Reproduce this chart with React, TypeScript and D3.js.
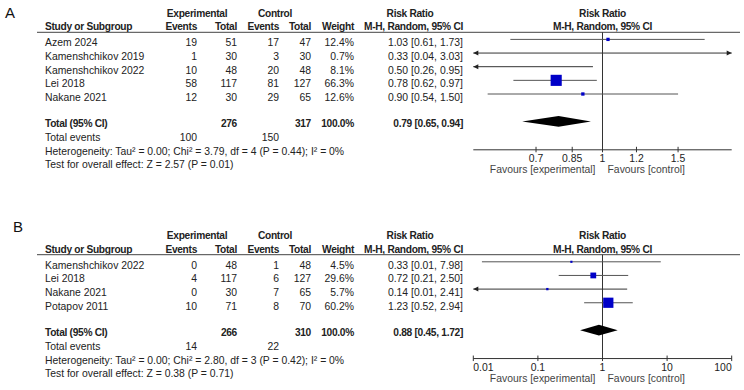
import React from 'react';
import * as d3 from 'd3';

// Panel A – data
const studiesA = ['Azem 2024', 'Kamenshchikov 2019', 'Kamenshchikov 2022', 'Lei 2018', 'Nakane 2021'];
const expEventsA = [19, 1, 10, 58, 12];
const expTotalA = [51, 30, 48, 117, 30];
const ctlEventsA = [17, 3, 20, 81, 29];
const ctlTotalA = [47, 30, 48, 127, 65];
const weightA = [12.4, 0.7, 8.1, 66.3, 12.6];
const rrA = [1.03, 0.33, 0.5, 0.78, 0.9];
const loA = [0.61, 0.04, 0.26, 0.62, 0.54];
const hiA = [1.73, 3.03, 0.95, 0.97, 1.5];
const pooledA = [0.79, 0.65, 0.94];
const totalsA = [276, 317];
const eventsA = [100, 150];
const hetA = 'Heterogeneity: Tau² = 0.00; Chi² = 3.79, df = 4 (P = 0.44); I² = 0%';
const testA = 'Test for overall effect: Z = 2.57 (P = 0.01)';
const domainA = [0.5, 2];
const ticksA = [0.7, 0.85, 1, 1.2, 1.5];
const tickLabelsA = ['0.7', '0.85', '1', '1.2', '1.5'];

// Panel B – data
const studiesB = ['Kamenshchikov 2022', 'Lei 2018', 'Nakane 2021', 'Potapov 2011'];
const expEventsB = [0, 4, 0, 10];
const expTotalB = [48, 117, 30, 71];
const ctlEventsB = [1, 6, 7, 8];
const ctlTotalB = [48, 127, 65, 70];
const weightB = [4.5, 29.6, 5.7, 60.2];
const rrB = [0.33, 0.72, 0.14, 1.23];
const loB = [0.0136, 0.21, 0.0081, 0.52];
const hiB = [7.98, 2.5, 2.41, 2.94];
const pooledB = [0.88, 0.45, 1.72];
const totalsB = [266, 310];
const eventsB = [14, 22];
const hetB = 'Heterogeneity: Tau² = 0.00; Chi² = 2.80, df = 3 (P = 0.42); I² = 0%';
const testB = 'Test for overall effect: Z = 0.38 (P = 0.71)';
const domainB = [0.01, 100];
const ticksB = [0.01, 0.1, 1, 10, 100];
const tickLabelsB = ['0.01', '0.1', '1', '10', '100'];

const FONT = '"Liberation Sans", Arial, sans-serif';
const TXT = '#222';
const LINE = '#555';
const BLUE = '#0000c8';
const FS = 10.4;
const FS_BOLD = 10.2;

// column anchors
const COL = {
  study: 45,
  expEv: 197,
  expTot: 237,
  ctlEv: 279,
  ctlTot: 311,
  weight: 354,
  rr: 463,
};
const PLOT = [473.3, 731.7];
const ROW = 13.65;

const fmt = (v: number) => v.toFixed(2);

interface PanelProps {
  letter: string;
  letterX: number;
  letterY: number;
  top: number;
  studies: string[];
  expEvents: number[];
  expTotal: number[];
  ctlEvents: number[];
  ctlTotal: number[];
  weight: number[];
  rr: number[];
  lo: number[];
  hi: number[];
  pooled: number[];
  totals: number[];
  events: number[];
  het: string;
  test: string;
  domain: number[];
  ticks: number[];
  tickLabels: string[];
}

function Panel(p: PanelProps) {
  const x = d3.scaleLog().domain(p.domain).range(PLOT);
  const size = d3.scaleLinear().domain([0, 100]).range([1.5, 16]);

  const h1 = p.top;
  const h2 = h1 + 13.4;
  const rule = h1 + 19;
  const rowY = (i: number) => h1 + 29.4 + i * ROW;
  const totalY = rowY(p.studies.length - 1) + 26.6;
  const evY = totalY + 14;
  const hetY = totalY + 27.6;
  const testY = totalY + 41;
  const axisY = totalY + 25.9;
  const nullX = x(1);
  const [dMin, dMax] = p.domain;

  const t = (props: any, s: any, bold = false) => (
    <text
      dominantBaseline="central"
      fontWeight={bold ? 'bold' : 'normal'}
      fontSize={bold ? FS_BOLD : FS}
      letterSpacing={bold ? -0.3 : 0}
      fill={TXT}
      {...props}
    >
      {s}
    </text>
  );

  const arrow = (xp: number, y: number, dir: number, key: string) => (
    <path
      key={key}
      d={`M${xp},${y} L${xp - dir * 5},${y - 2.5} L${xp - dir * 5},${y + 2.5} Z`}
      fill="#222"
    />
  );

  return (
    <g fontFamily={FONT}>
      <text x={p.letterX} y={p.letterY} dominantBaseline="central" fontSize={15} fill="#111">
        {p.letter}
      </text>

      {/* headers */}
      {t({ x: (165 + 229) / 2, y: h1, textAnchor: 'middle' }, 'Experimental', true)}
      {t({ x: 275, y: h1, textAnchor: 'middle' }, 'Control', true)}
      {t({ x: 410, y: h1, textAnchor: 'middle' }, 'Risk Ratio', true)}
      {t({ x: nullX, y: h1, textAnchor: 'middle' }, 'Risk Ratio', true)}
      {t({ x: COL.study, y: h2 }, 'Study or Subgroup', true)}
      {t({ x: COL.expEv, y: h2, textAnchor: 'end' }, 'Events', true)}
      {t({ x: COL.expTot, y: h2, textAnchor: 'end' }, 'Total', true)}
      {t({ x: COL.ctlEv, y: h2, textAnchor: 'end' }, 'Events', true)}
      {t({ x: COL.ctlTot, y: h2, textAnchor: 'end' }, 'Total', true)}
      {t({ x: COL.weight, y: h2, textAnchor: 'end' }, 'Weight', true)}
      {t({ x: COL.rr, y: h2, textAnchor: 'end' }, 'M-H, Random, 95% CI', true)}
      {t({ x: nullX, y: h2, textAnchor: 'middle' }, 'M-H, Random, 95% CI', true)}
      <line x1={37} x2={740} y1={rule} y2={rule} stroke="#444" strokeWidth={1} />

      {/* study rows */}
      {p.studies.map((s, i) => {
        const y = rowY(i);
        return (
          <g key={s}>
            {t({ x: COL.study, y }, s)}
            {t({ x: COL.expEv, y, textAnchor: 'end' }, p.expEvents[i])}
            {t({ x: COL.expTot, y, textAnchor: 'end' }, p.expTotal[i])}
            {t({ x: COL.ctlEv, y, textAnchor: 'end' }, p.ctlEvents[i])}
            {t({ x: COL.ctlTot, y, textAnchor: 'end' }, p.ctlTotal[i])}
            {t({ x: COL.weight, y, textAnchor: 'end' }, `${p.weight[i].toFixed(1)}%`)}
            {t({ x: COL.rr, y, textAnchor: 'end' }, `${fmt(p.rr[i])} [${fmt(p.lo[i])}, ${fmt(p.hi[i])}]`)}
          </g>
        );
      })}

      {/* total rows */}
      {t({ x: COL.study, y: totalY }, 'Total (95% CI)', true)}
      {t({ x: COL.expTot, y: totalY, textAnchor: 'end' }, p.totals[0], true)}
      {t({ x: COL.ctlTot, y: totalY, textAnchor: 'end' }, p.totals[1], true)}
      {t({ x: COL.weight, y: totalY, textAnchor: 'end' }, '100.0%', true)}
      {t(
        { x: COL.rr, y: totalY, textAnchor: 'end' },
        `${fmt(p.pooled[0])} [${fmt(p.pooled[1])}, ${fmt(p.pooled[2])}]`,
        true
      )}
      {t({ x: COL.study, y: evY }, 'Total events')}
      {t({ x: COL.expEv, y: evY, textAnchor: 'end' }, p.events[0])}
      {t({ x: COL.ctlEv, y: evY, textAnchor: 'end' }, p.events[1])}
      {t({ x: COL.study, y: hetY }, p.het)}
      {t({ x: COL.study, y: testY }, p.test)}

      {/* forest plot */}
      <line x1={nullX} x2={nullX} y1={rule} y2={axisY} stroke="#333" strokeWidth={1} />
      {p.studies.map((s, i) => {
        const y = rowY(i) - 3.3;
        const leftOut = p.lo[i] < dMin;
        const rightOut = p.hi[i] > dMax;
        const x1 = leftOut ? PLOT[0] : x(p.lo[i]);
        const x2 = rightOut ? PLOT[1] : x(p.hi[i]);
        const sz = size(p.weight[i]);
        const cx = x(p.rr[i]);
        const inside = p.rr[i] > dMin && p.rr[i] < dMax;
        return (
          <g key={`plot-${s}`}>
            <line x1={x1} x2={x2} y1={y} y2={y} stroke={leftOut || rightOut ? '#333' : LINE} strokeWidth={1} />
            {leftOut && arrow(PLOT[0], y, -1, 'l')}
            {rightOut && arrow(PLOT[1], y, 1, 'r')}
            {inside && <rect x={cx - sz / 2} y={y - sz / 2} width={sz} height={sz} fill={BLUE} />}
          </g>
        );
      })}
      {(() => {
        const y = totalY - 2.5;
        const h = 5.3;
        return (
          <path
            d={`M${x(p.pooled[1])},${y} L${x(p.pooled[0])},${y - h} L${x(p.pooled[2])},${y} L${x(p.pooled[0])},${y + h} Z`}
            fill="#000"
          />
        );
      })()}

      {/* axis */}
      <line x1={PLOT[0]} x2={PLOT[1]} y1={axisY} y2={axisY} stroke="#333" strokeWidth={1} />
      {p.ticks.map((v, i) => {
        const tx = x(v);
        const anchor = i === 0 && v === dMin ? 'start' : v === dMax ? 'end' : 'middle';
        return (
          <g key={`tick-${v}`}>
            <line x1={tx} x2={tx} y1={axisY - 3} y2={axisY + 2.5} stroke="#333" strokeWidth={1} />
            {t({ x: tx, y: axisY + 8.8, textAnchor: anchor }, p.tickLabels[i])}
          </g>
        );
      })}
      {t({ x: nullX - 7, y: axisY + 20, textAnchor: 'end', fill: '#444' }, 'Favours [experimental]')}
      {t({ x: nullX + 5, y: axisY + 20, fill: '#444' }, 'Favours [control]')}
    </g>
  );
}

export default function App() {
  return (
    <div style={{ position: 'fixed', left: 0, top: 0, background: '#fff' }}>
      <svg width={744} height={390} style={{ display: 'block' }}>
        <rect width={744} height={390} fill="#fff" />
        <Panel
          letter="A"
          letterX={5}
          letterY={12}
          top={13.3}
          studies={studiesA}
          expEvents={expEventsA}
          expTotal={expTotalA}
          ctlEvents={ctlEventsA}
          ctlTotal={ctlTotalA}
          weight={weightA}
          rr={rrA}
          lo={loA}
          hi={hiA}
          pooled={pooledA}
          totals={totalsA}
          events={eventsA}
          het={hetA}
          test={testA}
          domain={domainA}
          ticks={ticksA}
          tickLabels={tickLabelsA}
        />
        <Panel
          letter="B"
          letterX={13}
          letterY={226.5}
          top={235.7}
          studies={studiesB}
          expEvents={expEventsB}
          expTotal={expTotalB}
          ctlEvents={ctlEventsB}
          ctlTotal={ctlTotalB}
          weight={weightB}
          rr={rrB}
          lo={loB}
          hi={hiB}
          pooled={pooledB}
          totals={totalsB}
          events={eventsB}
          het={hetB}
          test={testB}
          domain={domainB}
          ticks={ticksB}
          tickLabels={tickLabelsB}
        />
      </svg>
    </div>
  );
}
